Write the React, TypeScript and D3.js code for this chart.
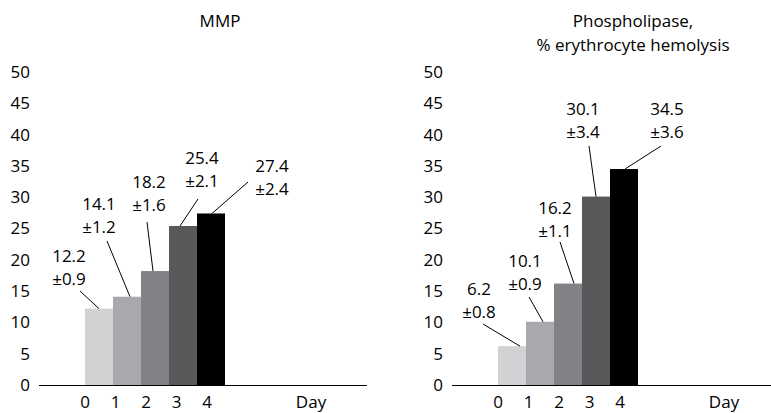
import React, { useRef, useEffect } from 'react';
import * as d3 from 'd3';

const days = ['0', '1', '2', '3', '4'];
const yTicks = [0, 5, 10, 15, 20, 25, 30, 35, 40, 45, 50];

const mmpValues = [12.2, 14.1, 18.2, 25.4, 27.4];
const mmpErrors = [0.9, 1.2, 1.6, 2.1, 2.4];

const phosValues = [6.2, 10.1, 16.2, 30.1, 34.5];
const phosErrors = [0.8, 0.9, 1.1, 3.4, 3.6];

const barColors = ['#d1d2d4', '#a7a9ac', '#808285', '#58595b', '#000000'];

// label placement (relative to panel origin), leader start, and where the leader hits the bar
const mmpLabels = [
  { lx: 30, ly: 285, sx: 41, sy: 291, ex: 14 },
  { lx: 60, ly: 233, sx: 68, sy: 241, ex: 17 },
  { lx: 110, ly: 211, sx: 108, sy: 222, ex: 12 },
  { lx: 163, ly: 187, sx: 159, sy: 199, ex: 11 },
  { lx: 233, ly: 195, sx: 209, sy: 182, ex: 15 },
];

const phosLabels = [
  { lx: 27, ly: 318, sx: 31, sy: 324, ex: 22 },
  { lx: 73, ly: 290, sx: 77, sy: 297, ex: 17 },
  { lx: 103, ly: 237, sx: 108, sy: 242, ex: 20 },
  { lx: 131, ly: 138, sx: 137, sy: 146, ex: 14 },
  { lx: 215, ly: 138, sx: 209, sy: 146, ex: 15 },
];

const width = 771;
const height = 413;
const font = "'Open Sans', sans-serif";

const App = () => {
  const ref = useRef(null);

  useEffect(() => {
    const svg = d3.select(ref.current);
    svg.selectAll('*').remove();

    const y = d3.scaleLinear().domain([0, 50]).range([385, 72]);

    const drawPanel = (ox: number, title: string[], values: number[], errors: number[], labels: any[]) => {
      const g = svg.append('g');

      // title
      title.forEach((t, i) => {
        g.append('text')
          .attr('x', ox + 181)
          .attr('y', 27 + i * 24)
          .attr('text-anchor', 'middle')
          .attr('font-family', font)
          .attr('font-size', 17)
          .text(t);
      });

      // y tick labels
      g.selectAll('.ytick')
        .data(yTicks)
        .enter()
        .append('text')
        .attr('x', ox - 9)
        .attr('y', (d: number) => y(d))
        .attr('dy', '0.35em')
        .attr('text-anchor', 'end')
        .attr('font-family', font)
        .attr('font-size', 17)
        .text((d: number) => d);

      const x = d3.scaleBand().domain(days).range([ox + 46, ox + 186]).padding(0);
      const xt = d3.scalePoint().domain(days).range([ox + 46, ox + 168]);

      // bars
      g.selectAll('.bar')
        .data(values)
        .enter()
        .append('rect')
        .attr('x', (_d: number, i: number) => x(days[i]) as number)
        .attr('y', (d: number) => y(d))
        .attr('width', x.bandwidth())
        .attr('height', (d: number) => y(0) - y(d))
        .attr('fill', (_d: number, i: number) => barColors[i]);

      // axis line
      g.append('line')
        .attr('x1', ox)
        .attr('x2', ox + 328)
        .attr('y1', y(0) + 0.5)
        .attr('y2', y(0) + 0.5)
        .attr('stroke', '#000')
        .attr('stroke-width', 1.2);

      // x tick labels
      g.selectAll('.xtick')
        .data(days)
        .enter()
        .append('text')
        .attr('x', (d: string) => xt(d) as number)
        .attr('y', 408)
        .attr('text-anchor', 'middle')
        .attr('font-family', font)
        .attr('font-size', 17)
        .text((d: string) => d);

      g.append('text')
        .attr('x', ox + 272)
        .attr('y', 408)
        .attr('text-anchor', 'middle')
        .attr('font-family', font)
        .attr('font-size', 17)
        .text('Day');

      // value labels with leader lines
      labels.forEach((l, i) => {
        g.append('text')
          .attr('x', ox + l.lx)
          .attr('y', l.ly - 23)
          .attr('text-anchor', 'middle')
          .attr('font-family', font)
          .attr('font-size', 17)
          .text(values[i].toFixed(1));
        g.append('text')
          .attr('x', ox + l.lx)
          .attr('y', l.ly)
          .attr('text-anchor', 'middle')
          .attr('font-family', font)
          .attr('font-size', 17)
          .text('±' + errors[i].toFixed(1));
        g.append('line')
          .attr('x1', ox + l.sx)
          .attr('y1', l.sy)
          .attr('x2', (x(days[i]) as number) + l.ex)
          .attr('y2', y(values[i]))
          .attr('stroke', '#000')
          .attr('stroke-width', 1);
      });
    };

    drawPanel(39, ['MMP'], mmpValues, mmpErrors, mmpLabels);
    drawPanel(452, ['Phospholipase,', '% erythrocyte hemolysis'], phosValues, phosErrors, phosLabels);
  }, []);

  return (
    <svg
      ref={ref}
      width={width}
      height={height}
      style={{ position: 'absolute', left: 0, top: 0, background: '#fff' }}
    />
  );
};

export default App;
